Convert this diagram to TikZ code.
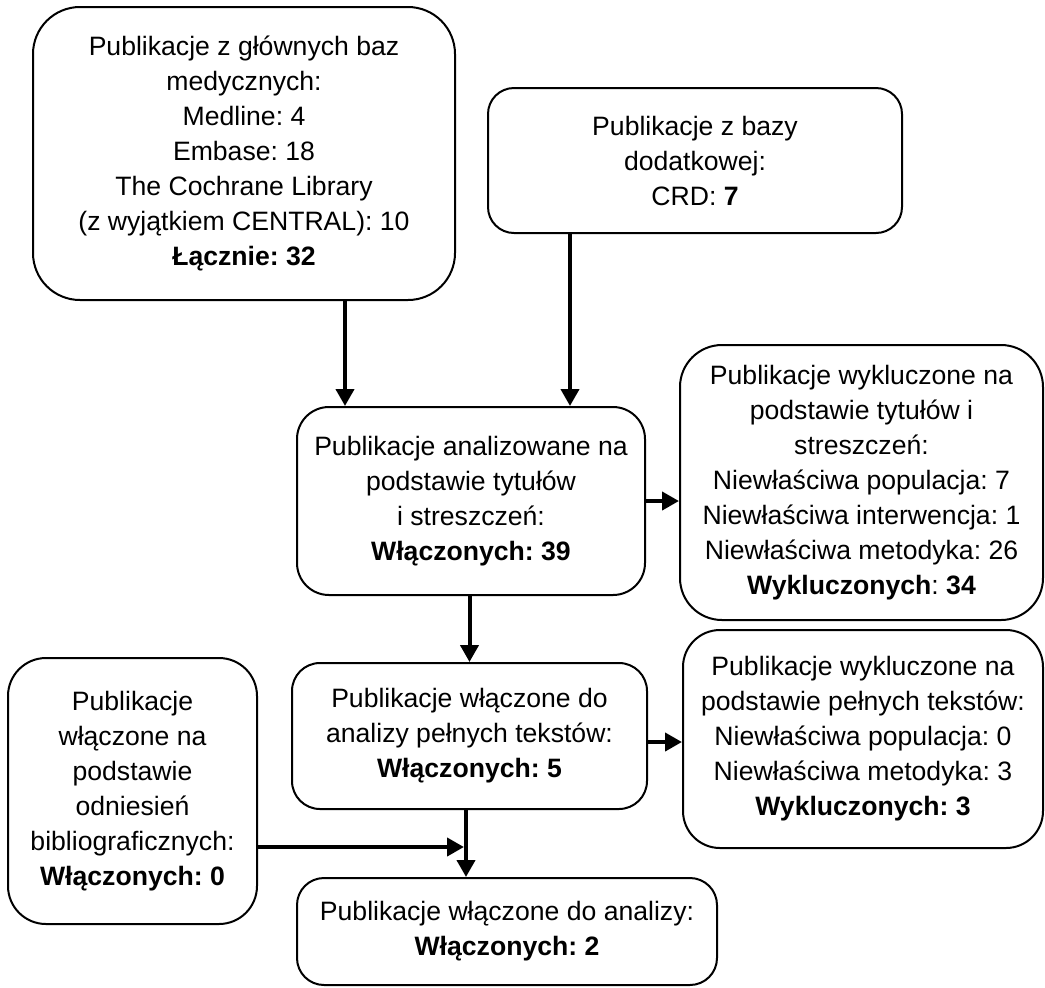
\documentclass[tikz,border=0pt]{standalone}
\usepackage{fontspec}
\setmainfont{Liberation Sans}
\usetikzlibrary{arrows.meta}
\frenchspacing

\begin{document}
\begin{tikzpicture}[x=0.5pt,y=-0.5pt,
    pubbox/.style={draw=black, line width=1pt, rounded corners=#1, align=center,
        inner sep=0pt, font=\fontsize{13.3pt}{17.5pt}\selectfont},
    flow/.style={line width=2pt, -{Triangle[width=9pt,length=8.5pt]}}]

    \useasboundingbox (0,0) rectangle (1045,987);

    \node[pubbox=23.5pt, minimum width=211pt, minimum height=146.5pt] (main) at (244,153.5)
        {Publikacje z głównych baz\\ medycznych:\\ Medline: 4\\ Embase: 18\\ The Cochrane Library\\
         (z wyjątkiem CENTRAL): 10\\ \textbf{Łącznie: 32}};
    \node[pubbox=13pt, minimum width=207pt, minimum height=72.5pt] (extra) at (695,160.5)
        {Publikacje z bazy\\ dodatkowej:\\ CRD: \textbf{7}};
    \node[pubbox=16pt, minimum width=174pt, minimum height=94pt] (tia) at (471,501)
        {Publikacje analizowane na\\ podstawie tytułów\\ i streszczeń:\\ \textbf{Włączonych: 39}};
    \node[pubbox=21pt, minimum width=181.5pt, minimum height=137.5pt] (exta) at (861.5,482.5)
        {Publikacje wykluczone na\\ podstawie tytułów i\\ streszczeń:\\ Niewłaściwa populacja: 7\\
         Niewłaściwa interwencja: 1\\ Niewłaściwa metodyka: 26\\ \textbf{Wykluczonych}: \textbf{34}};
    \node[pubbox=14pt, minimum width=177.5pt, minimum height=73pt] (full) at (469.5,736)
        {Publikacje włączone do\\ analizy pełnych tekstów:\\ \textbf{Włączonych: 5}};
    \node[pubbox=18.5pt, minimum width=180pt, minimum height=109pt] (exfull) at (863,739)
        {Publikacje wykluczone na\\ podstawie pełnych tekstów:\\ Niewłaściwa populacja: 0\\
         Niewłaściwa metodyka: 3\\ \textbf{Wykluczonych: 3}};
    \node[pubbox=19pt, minimum width=124.5pt, minimum height=133pt] (refs) at (132.5,791)
        {Publikacje\\ włączone na\\ podstawie\\ odniesień\\ bibliograficznych:\\ \textbf{Włączonych: 0}};
    \node[pubbox=13.5pt, minimum width=210pt, minimum height=53.5pt] (incl) at (507,931.5)
        {Publikacje włączone do analizy:\\ \textbf{Włączonych: 2}};

    \coordinate (m1) at (345,0);
    \coordinate (m2) at (570,0);
    \coordinate (jn) at (466,847);

    \draw[flow] (main.south -| m1) -- (tia.north -| m1);
    \draw[flow] (extra.south -| m2) -- (tia.north -| m2);
    \draw[flow] (tia.east) -- (tia.east -| exta.west);
    \draw[flow] (tia.south -| full.north) -- (full.north);
    \draw[flow] ([yshift=-3pt]full.east) -- ([yshift=-3pt]full.east -| exfull.west);
    \draw[flow] (full.south -| jn) -- (incl.north -| jn);
    \draw[flow] (refs.east |- jn) -- ([xshift=-1pt]jn);

\end{tikzpicture}
\end{document}
